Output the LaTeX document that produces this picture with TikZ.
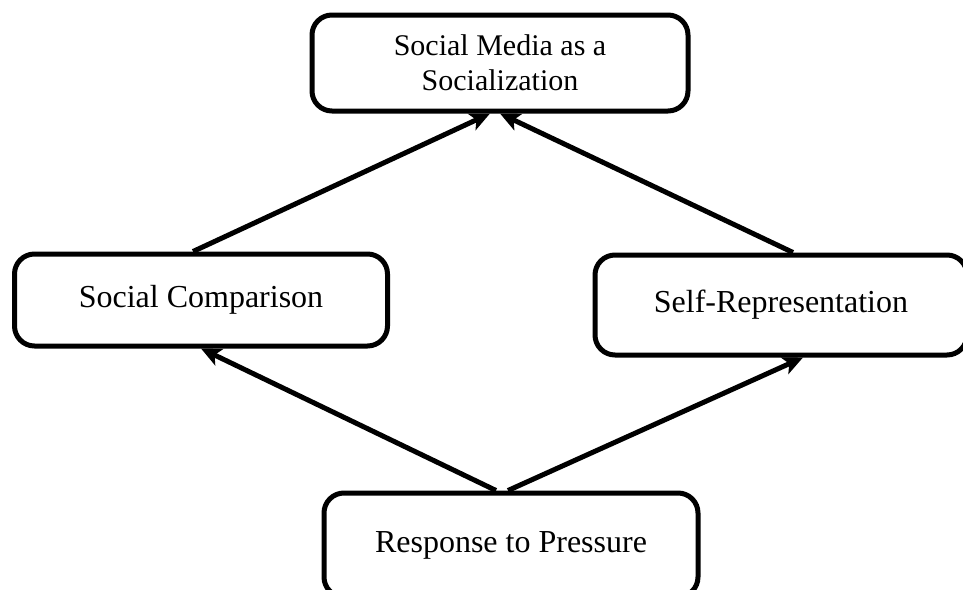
\documentclass[tikz,border=0pt]{standalone}
\usepackage{fontspec}
\setmainfont{Liberation Serif}
\usetikzlibrary{positioning,arrows.meta}

\tikzset{
  stagebox/.style={draw, line width=5pt, rounded corners=20pt, align=center,
    font=\fontsize{32}{36}\selectfont},
  linkarrow/.style={line width=5pt, -{Stealth[length=20pt,width=18pt,inset=5pt]}}
}

\begin{document}
\begin{tikzpicture}[x=1pt,y=-1pt]
    \useasboundingbox (0,0) rectangle (963,589);
    \node[stagebox, minimum width=376pt, minimum height=96pt,
      font=\fontsize{30}{35}\selectfont] (media) at (500,63) {Social Media as a\\Socialization};
    \node[stagebox, minimum width=373pt, minimum height=92pt] (comp) at (201,300) {Social Comparison};
    \node[stagebox, minimum width=372pt, minimum height=100pt] (self) at (781,305) {Self-Representation};
    \node[stagebox, minimum width=374pt, minimum height=104pt] (resp) at (511,545) {Response to Pressure};
    % arrows into the top box
    \draw[linkarrow] ([xshift=-8pt]comp.north) -- ([xshift=-10pt]media.south);
    \draw[linkarrow] ([xshift=12pt]self.north) -- ([xshift=0pt]media.south);
    % arrows out of the bottom box
    \draw[linkarrow] ([xshift=-15pt]resp.north) -- ([xshift=0pt]comp.south);
    \draw[linkarrow] ([xshift=-3pt]resp.north) -- ([xshift=22pt]self.south);
\end{tikzpicture}
\end{document}
